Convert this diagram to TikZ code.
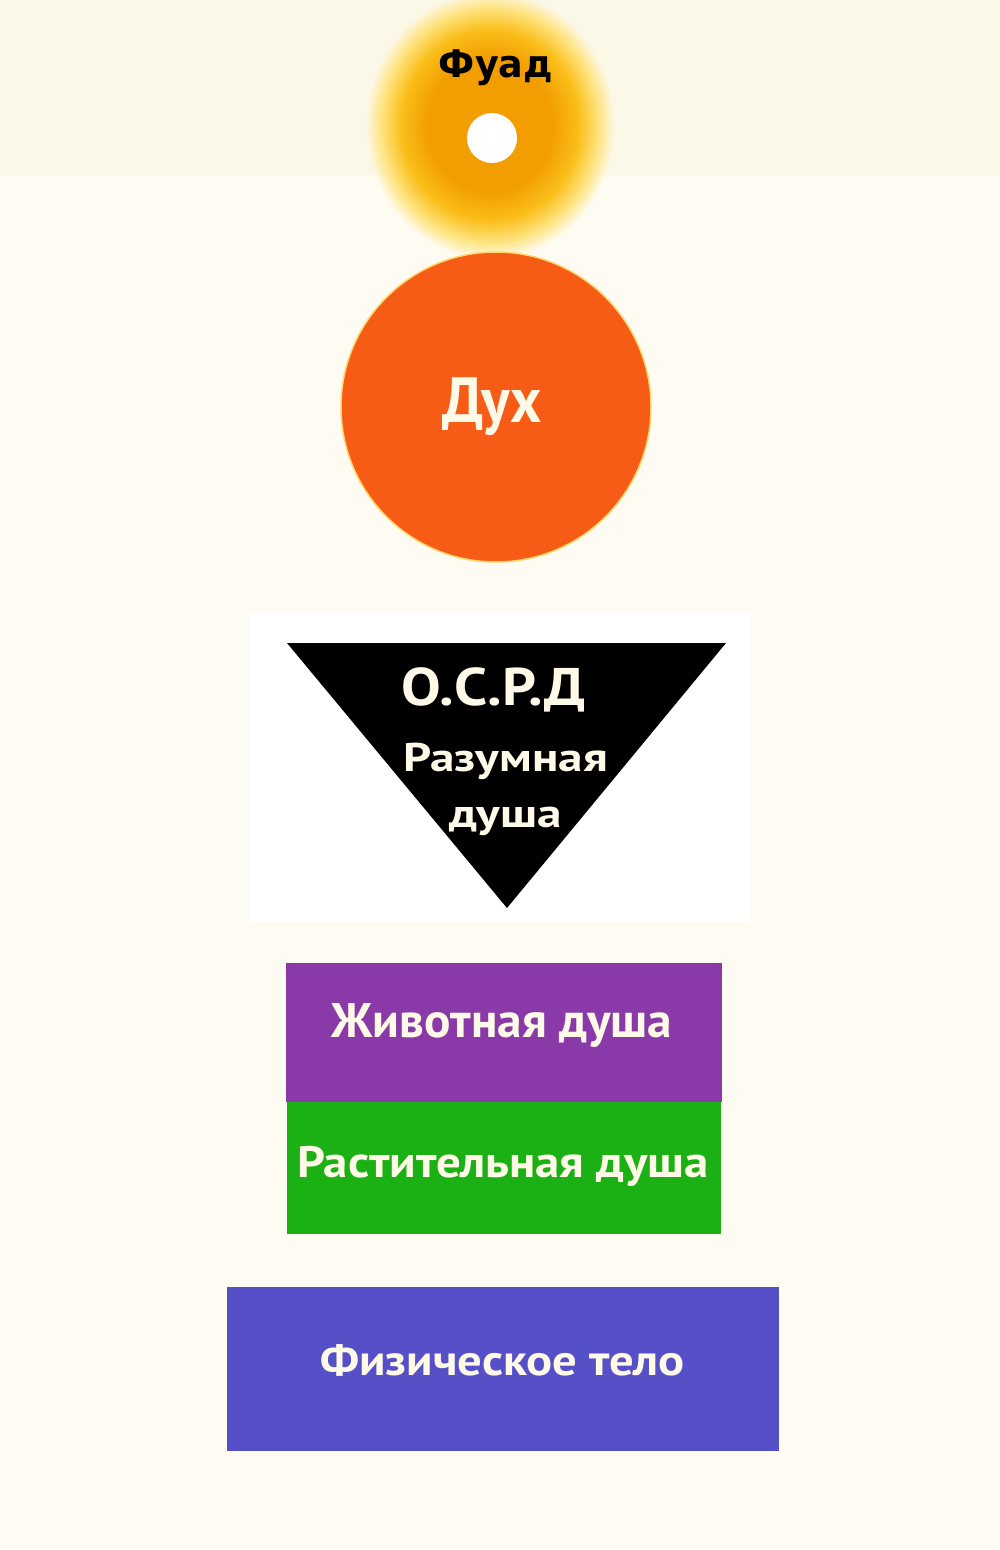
\documentclass[tikz,border=0pt]{standalone}
\usepackage{graphicx}
\usepackage{fontspec}
\setmainfont{PT Sans}
\newfontfamily\fuadfont{DejaVu Sans}
\definecolor{bg}{RGB}{254,252,242}
\definecolor{bgtop}{RGB}{252,248,232}
\definecolor{glowA}{RGB}{242,158,0}
\definecolor{glowB}{RGB}{250,190,25}
\definecolor{glowC}{RGB}{254,228,130}
\definecolor{dukhC}{RGB}{247,92,22}
\definecolor{dukhEdge}{RGB}{254,215,110}
\definecolor{animalC}{RGB}{138,58,168}
\definecolor{plantC}{RGB}{27,177,20}
\definecolor{bodyC}{RGB}{86,80,200}
\definecolor{txtC}{RGB}{255,250,232}
\pgfdeclareradialshading{glowlow}{\pgfpoint{0bp}{0bp}}{color(0bp)=(glowA); color(12bp)=(glowA); color(17bp)=(glowB); color(21bp)=(glowC); color(24bp)=(bg); color(50bp)=(bg)}
\pgfdeclareradialshading{glowtop}{\pgfpoint{0bp}{0bp}}{color(0bp)=(glowA); color(12bp)=(glowA); color(17bp)=(glowB); color(21bp)=(glowC); color(24bp)=(bgtop); color(50bp)=(bgtop)}
\tikzset{
  lbl/.style={text=txtC, font=\bfseries\fontsize{#1}{#1}\selectfont, inner sep=0pt, anchor=base},
  layer/.style={rectangle, inner sep=0pt, draw=none},
}
\begin{document}
\begin{tikzpicture}[x=1pt,y=-1pt]
\useasboundingbox (0,0) rectangle (1000,1550);
\fill[bg] (0,0) rectangle (1000,1550);
\fill[bgtop] (0,0) rectangle (1000,175);
\fill[white] (250,612) rectangle (750,922);
% Fuad glow
\begin{scope}
  \clip (0,0) rectangle (1000,175);
  \shade[shading=glowtop] (490,125) ellipse [x radius=130, y radius=140];
\end{scope}
\begin{scope}
  \clip (0,175) rectangle (1000,300);
  \shade[shading=glowlow] (490,125) ellipse [x radius=130, y radius=140];
\end{scope}
\node[circle, fill=white, minimum size=50pt, inner sep=0pt] (core) at (492,138) {};
\node[text=black, font=\fuadfont\bfseries\fontsize{38}{38}\selectfont, inner sep=0pt, anchor=base] (fuad) at (496,77) {\scalebox{0.96}[1]{Фуад}};
% Dukh
\node[circle, fill=dukhC, draw=dukhEdge, line width=1.5pt, minimum size=310pt, inner sep=0pt] (dukh) at (496,407) {};
\node[lbl=64] (dukhT) at (492,422) {\scalebox{0.93}[1]{Дух}};
% Triangle
\coordinate (tA) at (287,643);
\coordinate (tB) at (726,643);
\coordinate (tC) at (507,908);
\fill[black] (tA) -- (tB) -- (tC) -- cycle;
\node[lbl=53] (osrd) at (493.5,705) {\scalebox{1.12}[1]{О.С.Р.Д}};
\node[lbl=40] (razum) at (505.5,771) {\scalebox{1.23}[1]{Разумная}};
\node[lbl=40] (dusha) at (505.5,827) {\scalebox{1.23}[1]{душа}};
% Layers
\node[layer, fill=animalC, minimum width=436pt, minimum height=139pt] (animal) at (504,1032.5) {};
\node[lbl=48.5] (animalT) at (502,1037) {\scalebox{1.015}[1]{Животная душа}};
\node[layer, fill=plantC, minimum width=434pt, minimum height=132pt] (plant) at (504,1168) {};
\node[lbl=44] (plantT) at (503,1177) {\scalebox{1.11}[1]{Растительная душа}};
\node[layer, fill=bodyC, minimum width=552pt, minimum height=164pt] (body) at (503,1369) {};
\node[lbl=43] (bodyT) at (502.5,1375) {\scalebox{1.13}[1]{Физическое тело}};
\end{tikzpicture}
\end{document}
